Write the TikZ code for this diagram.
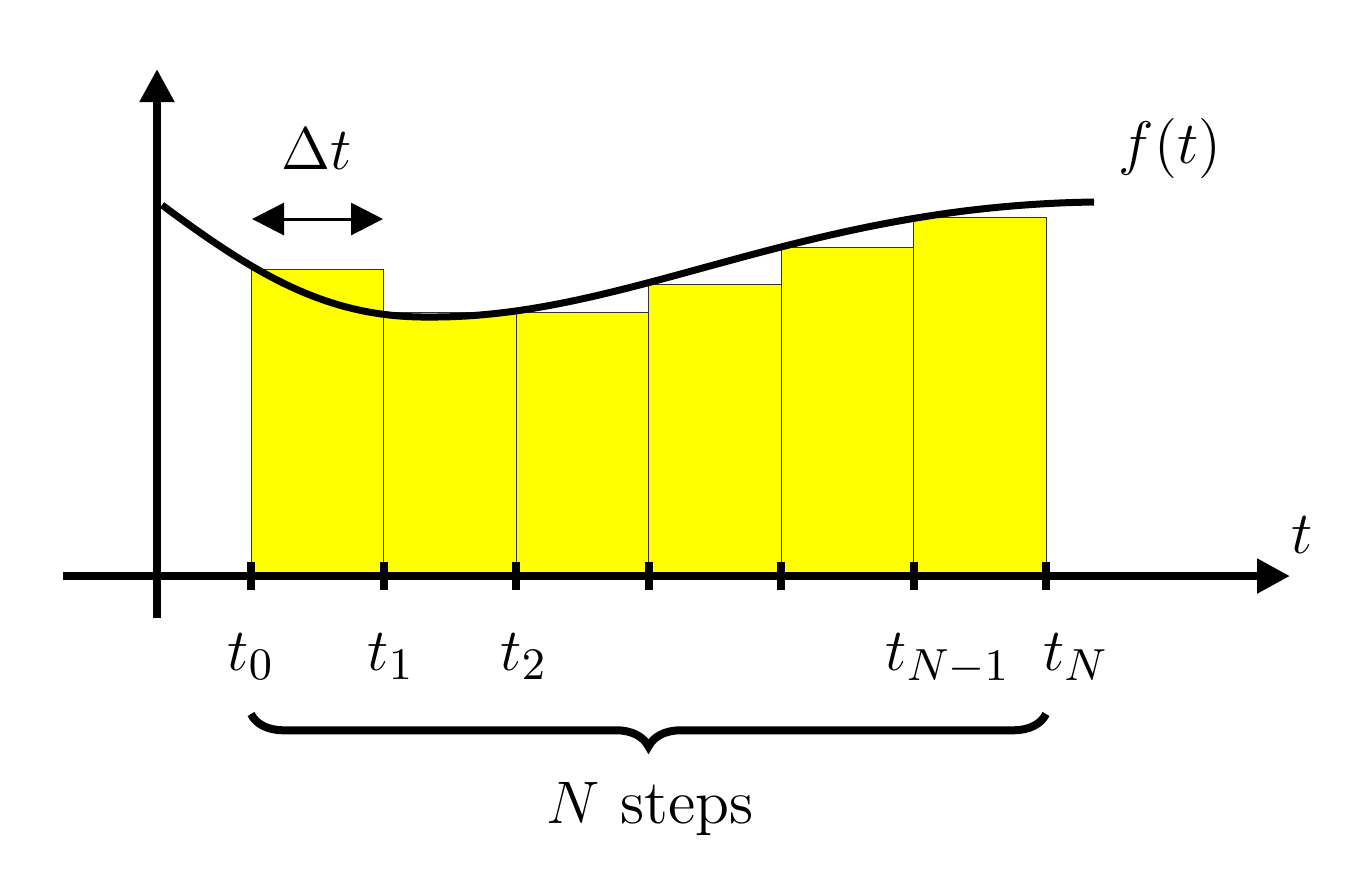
\documentclass[tikz,border=0pt]{standalone}
\usepackage{amsmath,amssymb}
\usepackage{tikz}
\usetikzlibrary{positioning,arrows.meta,calc,decorations.pathreplacing}

\definecolor{barfill}{RGB}{255,255,0}

\begin{document}
\begin{tikzpicture}[x=0.2pt,y=-0.2pt,
  axis/.style={line width=1.6pt,-{Triangle[width=6.6pt,length=6.6pt]}},
  bar/.style={fill=barfill,draw=black!80,line width=0.2pt},
  tick/.style={line width=1.6pt},
  lbl/.style={font=\fontsize{12.5}{15}\selectfont,inner sep=0pt,anchor=base}]

  \useasboundingbox (0,0) rectangle (1368,870);

  % bars, left end point rule
  \foreach \i/\h in {0/269,1/312,2/312,3/284,4/247,5/217} {
    \draw[bar] ({251+132.5*\i},576) rectangle ({251+132.5*(\i+1)},\h);
  }

  % f(t)
  \draw[line width=1.4pt] (162,205) .. controls (260,278) and (330,318) .. (430,317)
    .. controls (630,318) and (800,206) .. (1094,202);

  % axes
  \coordinate (xa) at (63,576);
  \coordinate (xb) at (1290,576);
  \coordinate (ya) at (157,618);
  \coordinate (yb) at (157,69);
  \draw[axis] (xa) -- (xb);
  \draw[axis] (ya) -- (yb);

  % ticks
  \foreach \i in {0,...,6} {
    \coordinate (t\i) at ({251+132.5*\i},576);
    \draw[tick] ($(t\i)+(0,-14)$) -- ($(t\i)+(0,14)$);
  }

  % delta t
  \coordinate (d0) at (252,219);
  \coordinate (d1) at (383,219);
  \draw[line width=0.6pt,{Triangle[width=6.4pt,length=6.4pt]}-{Triangle[width=6.4pt,length=6.4pt]}] (d0) -- (d1);
  \node[lbl] (dt) at (317,169) {$\Delta t$};

  % labels
  \node[lbl] (ft) at (1170,163) {$f(t)$};
  \node[lbl] (tx) at (1302,553) {$t$};
  \node[lbl] (l0) at (251,670) {$t_0$};
  \node[lbl] (l1) at (391,670) {$t_1$};
  \node[lbl] (l2) at (524,670) {$t_2$};
  \node[lbl] (l5) at (948,670) {$t_{N-1}$};
  \node[lbl] (l6) at (1076,670) {$t_N$};

  % brace
  \coordinate (b0) at (251,714);
  \coordinate (b1) at (1046,714);
  \draw[line width=1.6pt,decorate,decoration={brace,amplitude=6.5pt}] (b1) -- (b0);
  \node[lbl] (steps) at (650,823) {$N$ steps};

\end{tikzpicture}
\end{document}
